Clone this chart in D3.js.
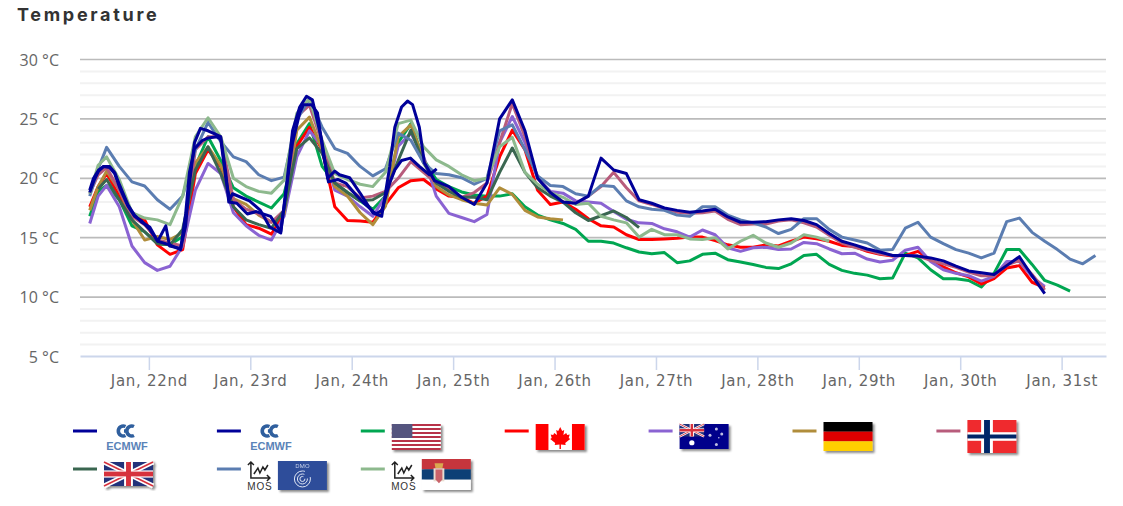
<!DOCTYPE html>
<html lang="en">
<head>
    <meta charset="UTF-8">
    <title>Temperature</title>
    <script src="https://d3js.org/d3.v7.min.js"></script>
    <style>
        body { margin: 0; background: #fff; }
        svg { display: block; }
        text { font-family: "Open Sans", sans-serif; }
    </style>
</head>
<body>

<svg width="1123" height="506"></svg>

<script>

    // hours counted from Jan 22nd 00:00
    var hours = [-14, -12].concat(d3.range(-10, 225, 3));

    var dayLabels = ['Jan, 22nd', 'Jan, 23rd', 'Jan, 24th', 'Jan, 25th', 'Jan, 26th', 'Jan, 27th', 'Jan, 28th', 'Jan, 29th', 'Jan, 30th', 'Jan, 31st'];
    var dayHours = [0, 24, 48, 72, 96, 120, 144, 168, 192, 216];
    var tempTicks = [5, 10, 15, 20, 25, 30];

    // the two ECMWF runs have their own time steps
    var ecmwfMainHours = [-14, -13.1, -11.9, -10.7, -9.3, -8.1, -6.9, -5, -3.4, -1.7, 0.2, 2.1, 4.9, 7.5, 8.7, 9.6, 10.8, 12.7, 14.1, 16, 17, 18.2, 19.1, 19.8, 23.8, 26.4, 28.6, 31.2, 32.6, 34, 35.7, 37.3, 38.7, 40.9, 42.3, 44, 45.1, 47.5, 49.9, 53, 55.1, 57, 58.2, 59.8, 61.2, 62.4, 64, 65.2, 67.6,
        71, 74, 77, 80, 83, 86, 89, 92, 95, 98, 101, 104, 107, 110, 113, 116, 119, 122, 125, 128, 131, 134, 137, 140, 143, 146, 149, 152, 155, 158, 161, 164, 167, 170, 173, 176, 179, 182, 185, 188, 191, 194, 197, 200, 203, 206, 209, 212];
    var ecmwfMain = [19, 20, 20.7, 21, 21, 20.5, 19.4, 17.8, 16.9, 16.3, 15.9, 14.7, 14.4, 14, 17, 20.5, 22.5, 23.2, 23.4, 23.5, 23.3, 20, 18.2, 18.7, 18.1, 17.3, 15.9, 15.4, 19.5, 24, 26, 26.9, 26.6, 23.2, 20, 20.6, 20.3, 20.05, 18.8, 17.1, 16.8, 21, 24.3, 26, 26.5, 26.2, 24.3, 21.3, 19.8,
        19.3, 18.4, 17.8, 19.6, 25, 26.6, 24, 20, 18.8, 18, 17.9, 18.5, 21.7, 20.7, 20.4, 18.2, 17.9, 17.5, 17.3, 17.15, 17.25, 17.4, 16.75, 16.3, 16.3, 16.35, 16.5, 16.6, 16.45, 16.1, 15.35, 14.7, 14.4, 14.05, 13.8, 13.5, 13.5, 13.45, 13.3, 13.05, 12.6, 12.2, 12.05, 11.9, 12.65, 13.4, 11.8, 10.3];

    var ecmwfShortHours = [-14, -13, -11.9, -10.7, -9.3, -8.1, -6.9, -5, -3.4, -1.7, 0.2, 2.1, 4, 4.9, 7.5, 8.7, 9.6, 10.8, 12.2, 14, 17, 18.2, 18.9, 20.8, 23.3, 25.4, 28.8, 31.2, 34, 35.7, 36.6, 38.5, 39.9, 41.3, 42.5, 44.7, 46.6, 48.5, 50.9, 53.7, 55.1, 57, 58.2, 59.8, 61.9, 64, 66.4, 68.1];
    var ecmwfShort = [18.8, 19.8, 20.6, 21, 20.9, 20.4, 19.2, 17.7, 16.8, 16.4, 15.7, 14.7, 16, 14.3, 14.1, 16, 19.5, 23, 24.2, 24, 23.5, 20.5, 18, 17.9, 17, 17.2, 16.8, 15.5, 23, 25.5, 26.2, 26.2, 25.5, 22, 19.7, 19.9, 19.6, 18.8, 17.9, 17, 17.3, 19.6, 20.7, 21.5, 21.7, 21, 20.3, 20.8];

    var usa = [16.8, 18.9, 19.4, 18.2, 16, 15.5, 14.5, 14.4, 15.1, 21, 23.5, 21.5, 19.2, 18.5, 18, 17.5, 18.7, 22.9, 24.6, 21, 19.6,
        18.8, 18.1, 17.4, 18.5, 23, 24.6, 21.6, 19.9, 19.3, 18.85, 18.6, 18.5, 18.5, 18.7, 17.6, 16.9, 16.5, 16.2, 15.7, 14.7, 14.7,
        14.55, 14.15, 13.8, 13.65, 13.75, 12.9, 13.05, 13.6, 13.7, 13.15, 12.95, 12.75, 12.5, 12.4, 12.8, 13.5, 13.6, 12.75, 12.25, 12, 11.85,
        11.55, 11.6, 13.7, 13.3, 12.3, 11.55, 11.55, 11.4, 10.85, 12, 14, 14, 12.75, 11.4, 11, 10.5];

    var canada = [17.6, 19.3, 20.4, 18.5, 17.1, 16.5, 14.4, 13.6, 14, 20.4, 22.4, 21, 17.6, 16.1, 15.8, 15.3, 17, 22.7, 24.3, 22.4, 17.6,
        16.45, 16.4, 16.3, 17.8, 19.2, 19.8, 19.9, 19.1, 18.5, 18.4, 17.9, 18.5, 21.8, 24.05, 22.4, 19, 17.8, 18, 17.4, 16.6, 16,
        15.9, 15.25, 14.85, 14.85, 14.9, 14.95, 15.05, 15.05, 14.75, 14.4, 14.2, 14.2, 14.4, 14.3, 14.7, 15.05, 14.9, 14.7, 14.35, 14.25, 13.85,
        13.6, 13.45, 13.5, 13.85, 13.1, 12.55, 12.05, 11.7, 11.1, 11.55, 12.45, 12.65, 11.25, 10.8];

    var australia = [16.2, 18.5, 19.4, 17.6, 14.3, 12.9, 12.25, 12.6, 14.3, 19, 21.25, 20.4, 17.1, 16, 15.2, 14.8, 16.8, 21.8, 24, 22.7, 19,
        18.5, 17.6, 16.8, 18.5, 22.7, 23.8, 21.85, 18.5, 17.05, 16.7, 16.35, 16.95, 23, 25.2, 23, 20, 18.9, 18.75, 18.1, 18, 17.9,
        17.2, 16.55, 16.25, 16.2, 15.75, 15.5, 15.05, 15.65, 15.25, 14.15, 13.85, 14.15, 14.2, 14, 14.05, 14.6, 14.5, 14.05, 13.65, 13.7, 13.2,
        12.95, 13.1, 13.95, 14.2, 13, 12.3, 12, 11.8, 11.35, 11.75, 13, 13, 11.7, 10.9];

    var germany = [17.3, 19.3, 20.6, 19, 16.5, 14.8, 15.1, 14.85, 15.4, 21.3, 22.65, 21.1, 18.3, 17.8, 16.9, 16.3, 17, 24.05, 25.15, 22.4, 19.3,
        18.5, 17.1, 16.1, 17.65, 23.5, 24.5, 21.6, 19.3, 18.6, 18.2, 17.9, 17.75, 19.2, 18.65, 17.3, 16.75, 16.6, 16.5];

    var norway = [18.7, 20.3, 20.9, 19, 16.8, 16.1, 14.8, 14.55, 14.3, 22.4, 23.5, 23.5, 18.2, 17.4, 17, 16.3, 17.3, 25.2, 26.15, 23, 19.6,
        19.3, 18.35, 18.5, 18.9, 20, 21.4, 20.5, 19.6, 19.05, 18.4, 18.8, 19.6, 23, 26.3, 23.5, 20, 18.8, 18, 17.9, 18.5, 19.3,
        20.5, 19.2, 18.1, 17.8, 17.45, 17.15, 17.05, 17.1, 17.25, 16.55, 16.1, 16.15, 16.15, 16.4, 16.5, 16.25, 15.9, 15.2, 14.55, 14.2, 13.95,
        13.65, 13.5, 13.5, 13.45, 13.1, 12.8, 12.5, 12.1, 11.8, 11.8, 12.7, 13.1, 11.9, 10.6];

    var uk = [null, 19.1, 19.9, 18.2, 16.5, 15.5, 14.5, 14.4, 15.7, 20.7, 22.65, 20.4, 17.6, 16.5, 16.1, 15.8, 17.3, 22.5, 23.4, 22.1, 19.6,
        18.8, 18.1, 18.2, 18.8, 21.5, 24.05, 21.3, 19.6, 18.9, 18.4, 18.4, 18.2, 20.5, 22.55, 20.5, 19.2, 18.5, 18, 17.1, 16.45, 16.85,
        17.25, 16.7, 15.85];

    var dmiMos = [18.5, 20.8, 22.6, 21, 19.7, 19.35, 18.2, 17.4, 18.5, 22.4, 24.7, 23.1, 21.8, 21.4, 20.3, 19.8, 20.1, 24.9, 26.7, 24.3, 22.5,
        22.1, 21, 20.2, 20.8, 23.8, 23.2, 21.3, 20.4, 20.3, 20.05, 19.5, 20, 24, 24.5, 22.4, 20.2, 19.4, 19.3, 18.7, 18.5, 19.4,
        19.3, 18.1, 17.6, 17.4, 17.3, 16.9, 16.8, 17.6, 17.6, 16.9, 16.5, 16.25, 15.9, 15.35, 15.7, 16.6, 16.6, 15.7, 15.05, 14.8, 14.55,
        13.95, 14, 15.8, 16.3, 15.05, 14.5, 14, 13.7, 13.3, 13.7, 16.35, 16.65, 15.45, 14.7, 14, 13.2, 12.8, 13.5];

    var serbiaMos = [18.7, 21.1, 21.8, 19.9, 17.1, 16.65, 16.5, 16.1, 18.5, 23.5, 25.1, 23.5, 20, 19.3, 18.9, 18.75, 19.85, 25.45, 26.7, 23.2, 20.4,
        19.9, 19.5, 19.3, 20.5, 24.6, 24.9, 22.65, 21.55, 21, 20.3, 19.8, 20, 22.65, 23.45, 20.5, 19.5, 18.8, 18.4, 17.8, 17.9, 16.8,
        16.5, 16.25, 15.05, 15.7, 15.25, 15.25, 14.9, 14.85, 15, 14.05, 14.7, 15.2, 14.55, 14.2, 14.55, 15.25, 15.05, 14.7];

    var svg = d3.select('svg');

    var xScale = d3.scaleLinear().domain([-16.3, 226.5]).range([80, 1106]);
    var yScale = d3.scaleLinear().domain([5, 30]).range([356.5, 59.5]);

    svg.append('text')
        .attr('x', 17)
        .attr('y', 20.5)
        .attr('fill', '#333')
        .style('font-family', 'Inter, sans-serif')
        .style('font-size', '18px')
        .style('font-weight', '700')
        .style('letter-spacing', '2.7px')
        .text('Temperature');

    // minor lines every degree, major every 5
    var grid = svg.append('g');
    grid.selectAll('line.minor')
        .data(d3.range(5, 30).filter(function (d) { return d % 5 !== 0; }))
        .enter()
        .append('line')
        .attr('class', 'minor')
        .attr('x1', 80).attr('x2', 1106)
        .attr('y1', function (d) { return yScale(d); })
        .attr('y2', function (d) { return yScale(d); })
        .attr('stroke', '#f2f2f2')
        .attr('stroke-width', 2);
    grid.selectAll('line.major')
        .data(tempTicks.slice(1))
        .enter()
        .append('line')
        .attr('class', 'major')
        .attr('x1', 80).attr('x2', 1106)
        .attr('y1', function (d) { return yScale(d); })
        .attr('y2', function (d) { return yScale(d); })
        .attr('stroke', '#bbb')
        .attr('stroke-width', 1.7);

    // y labels
    var axisY = d3.axisLeft(yScale)
        .tickValues(tempTicks)
        .tickSize(0)
        .tickPadding(0)
        .tickFormat(function (d) { return d + ' °C'; });
    var gy = svg.append('g').attr('transform', 'translate(59,0.5)').call(axisY);
    gy.select('.domain').remove();
    gy.selectAll('text')
        .attr('fill', '#666')
        .style('font-family', '"Open Sans", sans-serif')
        .style('font-size', '16px');

    // x axis
    var axisX = d3.axisBottom(xScale)
        .tickValues(dayHours)
        .tickSize(14)
        .tickPadding(5)
        .tickSizeOuter(0)
        .tickFormat(function (d, i) { return dayLabels[i]; });
    var gx = svg.append('g').attr('transform', 'translate(0,356)').call(axisX);
    gx.select('.domain').attr('stroke', '#ccd6eb').attr('stroke-width', 2);
    gx.selectAll('line').attr('stroke', '#ccd6eb').attr('stroke-width', 1.5);
    gx.selectAll('text')
        .attr('fill', '#666')
        .style('font-family', '"DejaVu Sans", sans-serif')
        .style('font-size', '15px')
        .style('letter-spacing', '0.7px');

    var line = d3.line()
        .defined(function (d) { return d[1] !== null; })
        .x(function (d) { return xScale(d[0]); })
        .y(function (d) { return yScale(d[1]); });

    function pairs(times, values) {
        return values.map(function (v, i) { return [times[i], v]; });
    }

    // drawn back to front, the ECMWF lines stay on top
    var series = [
        { name: 'usa', color: '#00a651', points: pairs(hours, usa) },
        { name: 'canada', color: '#ff0000', points: pairs(hours, canada) },
        { name: 'australia', color: '#8a63d2', points: pairs(hours, australia) },
        { name: 'germany', color: '#b08d3b', points: pairs(hours, germany) },
        { name: 'norway', color: '#b85c7c', points: pairs(hours, norway) },
        { name: 'uk', color: '#3a6650', points: pairs(hours, uk) },
        { name: 'dmi', color: '#5b7db1', points: pairs(hours, dmiMos) },
        { name: 'serbia', color: '#8db98d', points: pairs(hours, serbiaMos) },
        { name: 'ecmwf2', color: '#000099', points: pairs(ecmwfShortHours, ecmwfShort) },
        { name: 'ecmwf1', color: '#000099', points: pairs(ecmwfMainHours, ecmwfMain) }
    ];

    svg.append('g').selectAll('path')
        .data(series)
        .enter()
        .append('path')
        .attr('d', function (d) { return line(d.points); })
        .attr('fill', 'none')
        .attr('stroke', function (d) { return d.color; })
        .attr('stroke-width', 3)
        .attr('stroke-linejoin', 'round');

    // legend icons
    var defs = svg.append('defs');
    defs.append('filter').attr('id', 'shadow').attr('x', '-10%').attr('y', '-10%').attr('width', '125%').attr('height', '130%')
        .append('feDropShadow')
        .attr('dx', 2).attr('dy', 2).attr('stdDeviation', 1)
        .attr('flood-color', '#000').attr('flood-opacity', 0.45);

    function rect(g, x, y, w, h, fill) {
        return g.append('rect').attr('x', x).attr('y', y).attr('width', w).attr('height', h).attr('fill', fill);
    }

    function unionJack(g, w, h) {
        rect(g, 0, 0, w, h, '#24307a');
        [[0, 0, w, h], [0, h, w, 0]].forEach(function (c) {
            g.append('line').attr('x1', c[0]).attr('y1', c[1]).attr('x2', c[2]).attr('y2', c[3])
                .attr('stroke', '#fff').attr('stroke-width', h * 0.2);
            g.append('line').attr('x1', c[0]).attr('y1', c[1]).attr('x2', c[2]).attr('y2', c[3])
                .attr('stroke', '#d6303c').attr('stroke-width', h * 0.07);
        });
        rect(g, w * 0.41, 0, w * 0.18, h, '#fff');
        rect(g, 0, h * 0.35, w, h * 0.3, '#fff');
        rect(g, w * 0.45, 0, w * 0.1, h, '#d6303c');
        rect(g, 0, h * 0.4, w, h * 0.2, '#d6303c');
    }

    var flags = {
        usa: function (g, w, h) {
            rect(g, 0, 0, w, h, '#fff');
            d3.range(0, 7).forEach(function (i) {
                rect(g, 0, i * h * 2 / 13, w, h / 13, '#b8334a');
            });
            rect(g, 0, 0, w * 0.42, h * 7 / 13, '#55557f');
        },
        canada: function (g, w, h) {
            rect(g, 0, 0, w, h, '#fff');
            rect(g, 0, 0, w * 0.26, h, '#ff0000');
            rect(g, w * 0.74, 0, w * 0.26, h, '#ff0000');
            g.append('path')
                .attr('transform', 'translate(' + (w / 2) + ',' + (h / 2) + ')')
                .attr('d', 'M0,-10 L2,-6 L4,-7 L3.2,-2 L6,-4 L7,-2 L9.5,-2.5 L8.5,1 L10,2 L5,6 L5.5,8 L0.7,7.4 L0.7,12 L-0.7,12 L-0.7,7.4 L-5.5,8 L-5,6 L-10,2 L-8.5,1 L-9.5,-2.5 L-7,-2 L-6,-4 L-3.2,-2 L-4,-7 L-2,-6 Z')
                .attr('fill', '#ff0000');
        },
        australia: function (g, w, h) {
            rect(g, 0, 0, w, h, '#00008b');
            unionJack(g.append('g'), w * 0.5, h * 0.5);
            [[0.25, 0.75, 2.6], [0.75, 0.2, 1.5], [0.62, 0.45, 1.5], [0.86, 0.4, 1.5], [0.75, 0.82, 1.5], [0.8, 0.55, 0.8]].forEach(function (s) {
                g.append('circle').attr('cx', w * s[0]).attr('cy', h * s[1]).attr('r', s[2]).attr('fill', '#fff').attr('fill-opacity', s[2] > 2 ? 1 : 0.75);
            });
        },
        germany: function (g, w, h) {
            rect(g, 0, 0, w, h / 3, '#000');
            rect(g, 0, h / 3, w, h / 3, '#dd0000');
            rect(g, 0, h * 2 / 3, w, h / 3, '#ffce00');
        },
        norway: function (g, w, h) {
            rect(g, 0, 0, w, h, '#ef2b2d');
            rect(g, w * 0.28, 0, w * 0.24, h, '#fff');
            rect(g, 0, h * 0.37, w, h * 0.26, '#fff');
            rect(g, w * 0.34, 0, w * 0.12, h, '#002868');
            rect(g, 0, h * 0.44, w, h * 0.12, '#002868');
        },
        uk: function (g, w, h) {
            unionJack(g, w, h);
        },
        dmi: function (g, w, h) {
            rect(g, 0, 0, w, h, '#2e4d9a');
            g.append('text').attr('x', w / 2).attr('y', 7).attr('text-anchor', 'middle')
                .attr('fill', '#cfd8ee').style('font-size', '6px').text('DMO');
            [8, 5, 2.5].forEach(function (r) {
                g.append('circle').attr('cx', w / 2).attr('cy', h * 0.62).attr('r', r)
                    .attr('fill', 'none').attr('stroke', '#dfe6f5').attr('stroke-width', 1)
                    .attr('stroke-dasharray', (r * 5) + ' ' + r);
            });
        },
        serbia: function (g, w, h) {
            rect(g, 0, 0, w, h / 3, '#c6363c');
            rect(g, 0, h / 3, w, h / 3, '#0c4076');
            rect(g, 0, h * 2 / 3, w, h / 3, '#fff');
            // crest
            g.append('path')
                .attr('d', 'M' + (w * 0.26) + ',' + (h * 0.14) + ' L' + (w * 0.44) + ',' + (h * 0.14) + ' L' + (w * 0.42) + ',' + (h * 0.3) + ' L' + (w * 0.28) + ',' + (h * 0.3) + ' Z')
                .attr('fill', '#d9a94f');
            rect(g, w * 0.24, h * 0.3, w * 0.22, h * 0.42, '#e8dcd0');
            g.append('path')
                .attr('d', 'M' + (w * 0.28) + ',' + (h * 0.34) + ' L' + (w * 0.42) + ',' + (h * 0.34) + ' L' + (w * 0.42) + ',' + (h * 0.66) + ' L' + (w * 0.35) + ',' + (h * 0.78) + ' L' + (w * 0.28) + ',' + (h * 0.66) + ' Z')
                .attr('fill', '#c9636a');
        }
    };

    function ecmwfIcon(g) {
        g.append('path')
            .attr('d', 'M9.5,1.5 A5,5 0 1 0 9.5,10.5 M8,6 L12,6 M18,1.5 A5,5 0 1 0 18,10.5')
            .attr('fill', 'none').attr('stroke', '#2f5f9e').attr('stroke-width', 3.6);
        g.append('text').attr('x', 11).attr('y', 24.5).attr('text-anchor', 'middle')
            .attr('fill', '#5a83b8')
            .style('font-family', '"Liberation Sans", sans-serif')
            .style('font-size', '11px').style('font-weight', 'bold')
            .text('ECMWF');
    }

    function mosIcon(g) {
        g.append('path')
            .attr('d', 'M3,1 L3,17 L22,17 M0,4 L3,1 L6,4 M19,14 L22,17 L19,20 M6,13 L10,7 L12,12 L15,6 L17,9 L20,4')
            .attr('fill', 'none').attr('stroke', '#222').attr('stroke-width', 1.5);
        g.append('text').attr('x', 12).attr('y', 29).attr('text-anchor', 'middle')
            .attr('fill', '#333')
            .style('font-family', '"Liberation Sans", sans-serif')
            .style('font-size', '10px').style('letter-spacing', '0.8px')
            .text('MOS');
    }

    // one entry per series, in legend order
    var legendNames = ['ecmwf1', 'ecmwf2', 'usa', 'canada', 'australia', 'germany', 'norway', 'uk', 'dmi', 'serbia'];
    var legendFlagSize = { usa: [49, 26], canada: [49, 26], australia: [49, 25], germany: [49, 29], norway: [49, 33], uk: [49, 24], dmi: [49, 29], serbia: [49, 31] };
    var legendFlagOffset = { usa: [31, -7], canada: [31, -7], australia: [31, -7], germany: [31, -9], norway: [31, -11], uk: [31, -7], dmi: [61, -8], serbia: [61, -10] };

    var legend = svg.append('g');
    legendNames.forEach(function (name, i) {
        var col = i < 7 ? i : i - 7;
        var row = i < 7 ? 0 : 1;
        var s = series.filter(function (d) { return d.name === name; })[0];
        var g = legend.append('g').attr('transform', 'translate(' + (73 + col * 143.9) + ',' + (431 + row * 38) + ')');
        g.append('line').attr('x1', 0).attr('x2', 24).attr('y1', 0).attr('y2', 0)
            .attr('stroke', s.color).attr('stroke-width', 3);
        if (name === 'ecmwf1' || name === 'ecmwf2') {
            ecmwfIcon(g.append('g').attr('transform', 'translate(43,-6)'));
            return;
        }
        if (name === 'dmi' || name === 'serbia') {
            mosIcon(g.append('g').attr('transform', 'translate(31,-8)'));
        }
        var size = legendFlagSize[name];
        var off = legendFlagOffset[name];
        var f = g.append('g')
            .attr('transform', 'translate(' + off[0] + ',' + off[1] + ')')
            .attr('filter', 'url(#shadow)');
        flags[name](f, size[0], size[1]);
    });

</script>

</body>
</html>
